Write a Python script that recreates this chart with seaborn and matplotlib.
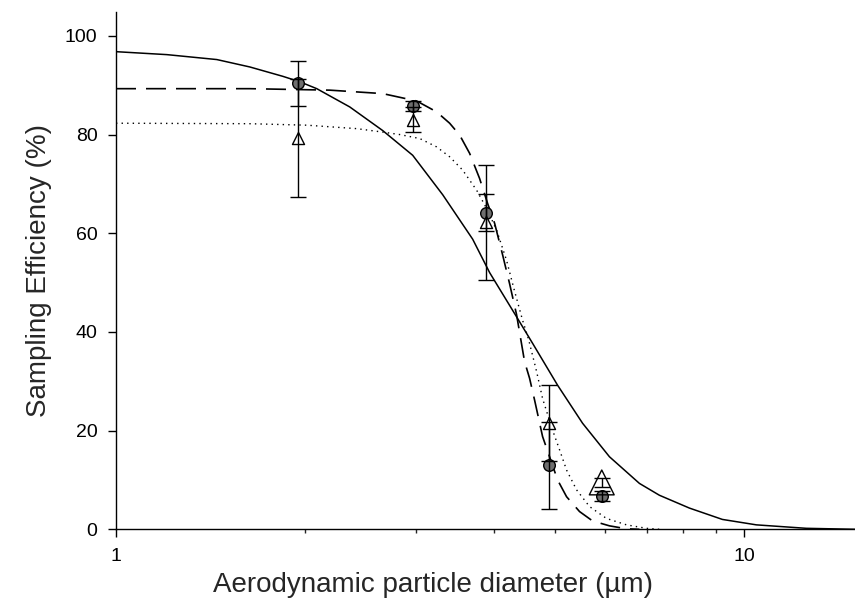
import numpy as np
import pandas as pd
import matplotlib
matplotlib.use("Agg")
import matplotlib.pyplot as plt
from matplotlib.ticker import FixedLocator, NullFormatter
import seaborn as sns

# ---------------- data ----------------
diam = [1.95, 2.97, 3.88, 4.88, 5.93]

circ_eff = [90.4, 85.8, 64.2, 13.0, 6.7]
circ_err = [4.6, 1.0, 3.8, 8.8, 1.0]

tri_eff = [79.3, 83.0, 62.2, 21.5, 9.5]
tri_err = [11.9, 2.5, 11.6, 7.7, 0.9]

solid_x = [1.0, 1.205, 1.447, 1.633, 1.843, 1.961, 2.087, 2.355, 2.658, 2.966,
           3.311, 3.695, 3.933, 4.324, 4.602, 5.044, 5.527, 6.100, 6.808,
           7.325, 8.177, 9.227, 10.45, 12.55, 15.0]
solid_y = [96.8, 96.2, 95.2, 93.7, 91.8, 90.7, 89.3, 85.6, 80.8, 75.8,
           67.8, 58.8, 52.0, 43.4, 37.7, 29.2, 21.5, 14.7, 9.3,
           6.9, 4.3, 2.0, 0.9, 0.2, 0.0]

dash_x = [1.0, 1.633, 2.189, 2.658, 3.010, 3.238, 3.396, 3.523, 3.654, 3.790,
          3.904, 4.005, 4.124, 4.230, 4.340, 4.469, 4.552, 4.636, 4.774,
          4.898, 5.044, 5.213, 5.466, 5.733, 6.100, 6.493, 6.808]
dash_y = [89.3, 89.3, 89.0, 88.3, 86.8, 84.6, 82.3, 79.9, 76.2, 71.1,
          66.0, 62.0, 55.6, 49.8, 43.5, 34.0, 30.6, 26.2, 18.8,
          14.7, 10.0, 6.6, 3.6, 1.7, 0.7, 0.1, 0.0]

dot_x = [1.0, 1.633, 2.012, 2.416, 2.658, 2.829, 3.043, 3.238, 3.396, 3.562,
         3.750, 3.890, 4.035, 4.184, 4.293, 4.436, 4.535, 4.670, 4.774,
         4.952, 5.081, 5.213, 5.407, 5.671, 6.033, 6.493, 6.985, 7.325]
dot_y = [82.3, 82.2, 81.9, 81.2, 80.5, 80.0, 79.2, 77.5, 75.5, 72.8,
         68.7, 65.0, 60.6, 54.5, 49.0, 42.4, 38.5, 32.0, 26.5,
         20.1, 16.1, 12.0, 8.0, 4.6, 2.2, 0.9, 0.2, 0.0]

x_ticks = [1, 10]
x_ticklabels = ["1", "10"]
x_minor = [2, 3, 4, 5, 6, 7, 8, 9]
y_ticks = [0, 20, 40, 60, 80, 100]

xlabel = "Aerodynamic particle diameter (\u00b5m)"
ylabel = "Sampling Efficiency (%)"

# ---------------- figure ----------------
sns.set_style("ticks")
plt.rcParams['font.family'] = ['Liberation Sans', 'DejaVu Sans']

fig = plt.figure(figsize=(8.55, 6.11), dpi=100)
ax = fig.add_axes([116 / 855, (611 - 529.3) / 611, (855 - 116) / 855, (529.3 - 11.7) / 611])

solid_df = pd.DataFrame({"d": solid_x, "e": solid_y})
dash_df = pd.DataFrame({"d": dash_x, "e": dash_y})
dot_df = pd.DataFrame({"d": dot_x, "e": dot_y})

sns.lineplot(data=solid_df, x="d", y="e", ax=ax, color="black", lw=1.1,
             estimator=None, sort=False, zorder=2)
sns.lineplot(data=dash_df, x="d", y="e", ax=ax, color="black", lw=1.2,
             estimator=None, sort=False, zorder=2)
ax.lines[-1].set_dashes((12, 6))
sns.lineplot(data=dot_df, x="d", y="e", ax=ax, color="black", lw=1.0,
             estimator=None, sort=False, zorder=2)
ax.lines[-1].set_linestyle((0, (1, 3)))

pts = pd.DataFrame({"d": diam, "c": circ_eff, "t": tri_eff})
sns.scatterplot(data=pts, x="d", y="c", ax=ax, marker="o", s=70,
                color="#6e6e6e", edgecolor="black", linewidth=1.0, zorder=3)
sns.scatterplot(data=pts.iloc[:4], x="d", y="t", ax=ax, marker="^", s=75,
                facecolor="white", edgecolor="black", linewidth=1.0, zorder=3)
sns.scatterplot(data=pts.iloc[4:], x="d", y="t", ax=ax, marker="^", s=320,
                facecolor="none", edgecolor="black", linewidth=1.0, zorder=3)

ax.errorbar(diam, circ_eff, yerr=circ_err, fmt="none", ecolor="black",
            elinewidth=1.0, capsize=5.6, capthick=1.0, zorder=4)
ax.errorbar(diam, tri_eff, yerr=tri_err, fmt="none", ecolor="black",
            elinewidth=1.0, capsize=5.6, capthick=1.0, zorder=4)

ax.set_xscale("log")
ax.set_xlim(1, 15)
ax.set_ylim(0, 104.9)
ax.xaxis.set_major_locator(FixedLocator(x_ticks))
ax.set_xticklabels(x_ticklabels)
ax.xaxis.set_minor_locator(FixedLocator(x_minor))
ax.xaxis.set_minor_formatter(NullFormatter())
ax.set_yticks(y_ticks)

ax.tick_params(axis="both", which="major", direction="out", length=5.8, width=1.0,
               labelsize=14, colors="black", pad=7.5)
ax.tick_params(axis="x", which="minor", direction="out", length=3, width=1.0)

for s in ["top", "right"]:
    ax.spines[s].set_visible(False)
for s in ["left", "bottom"]:
    ax.spines[s].set_linewidth(1.0)
    ax.spines[s].set_color("black")

ax.set_xlabel(xlabel, fontsize=20)
ax.set_ylabel(ylabel, fontsize=20)
ax.xaxis.set_label_coords((433 - 116) / 739, (529.3 - 572) / 517.6)
ax.yaxis.set_label_coords((52 - 116) / 739, 0.5)

fig.savefig("out.png", dpi=100)
